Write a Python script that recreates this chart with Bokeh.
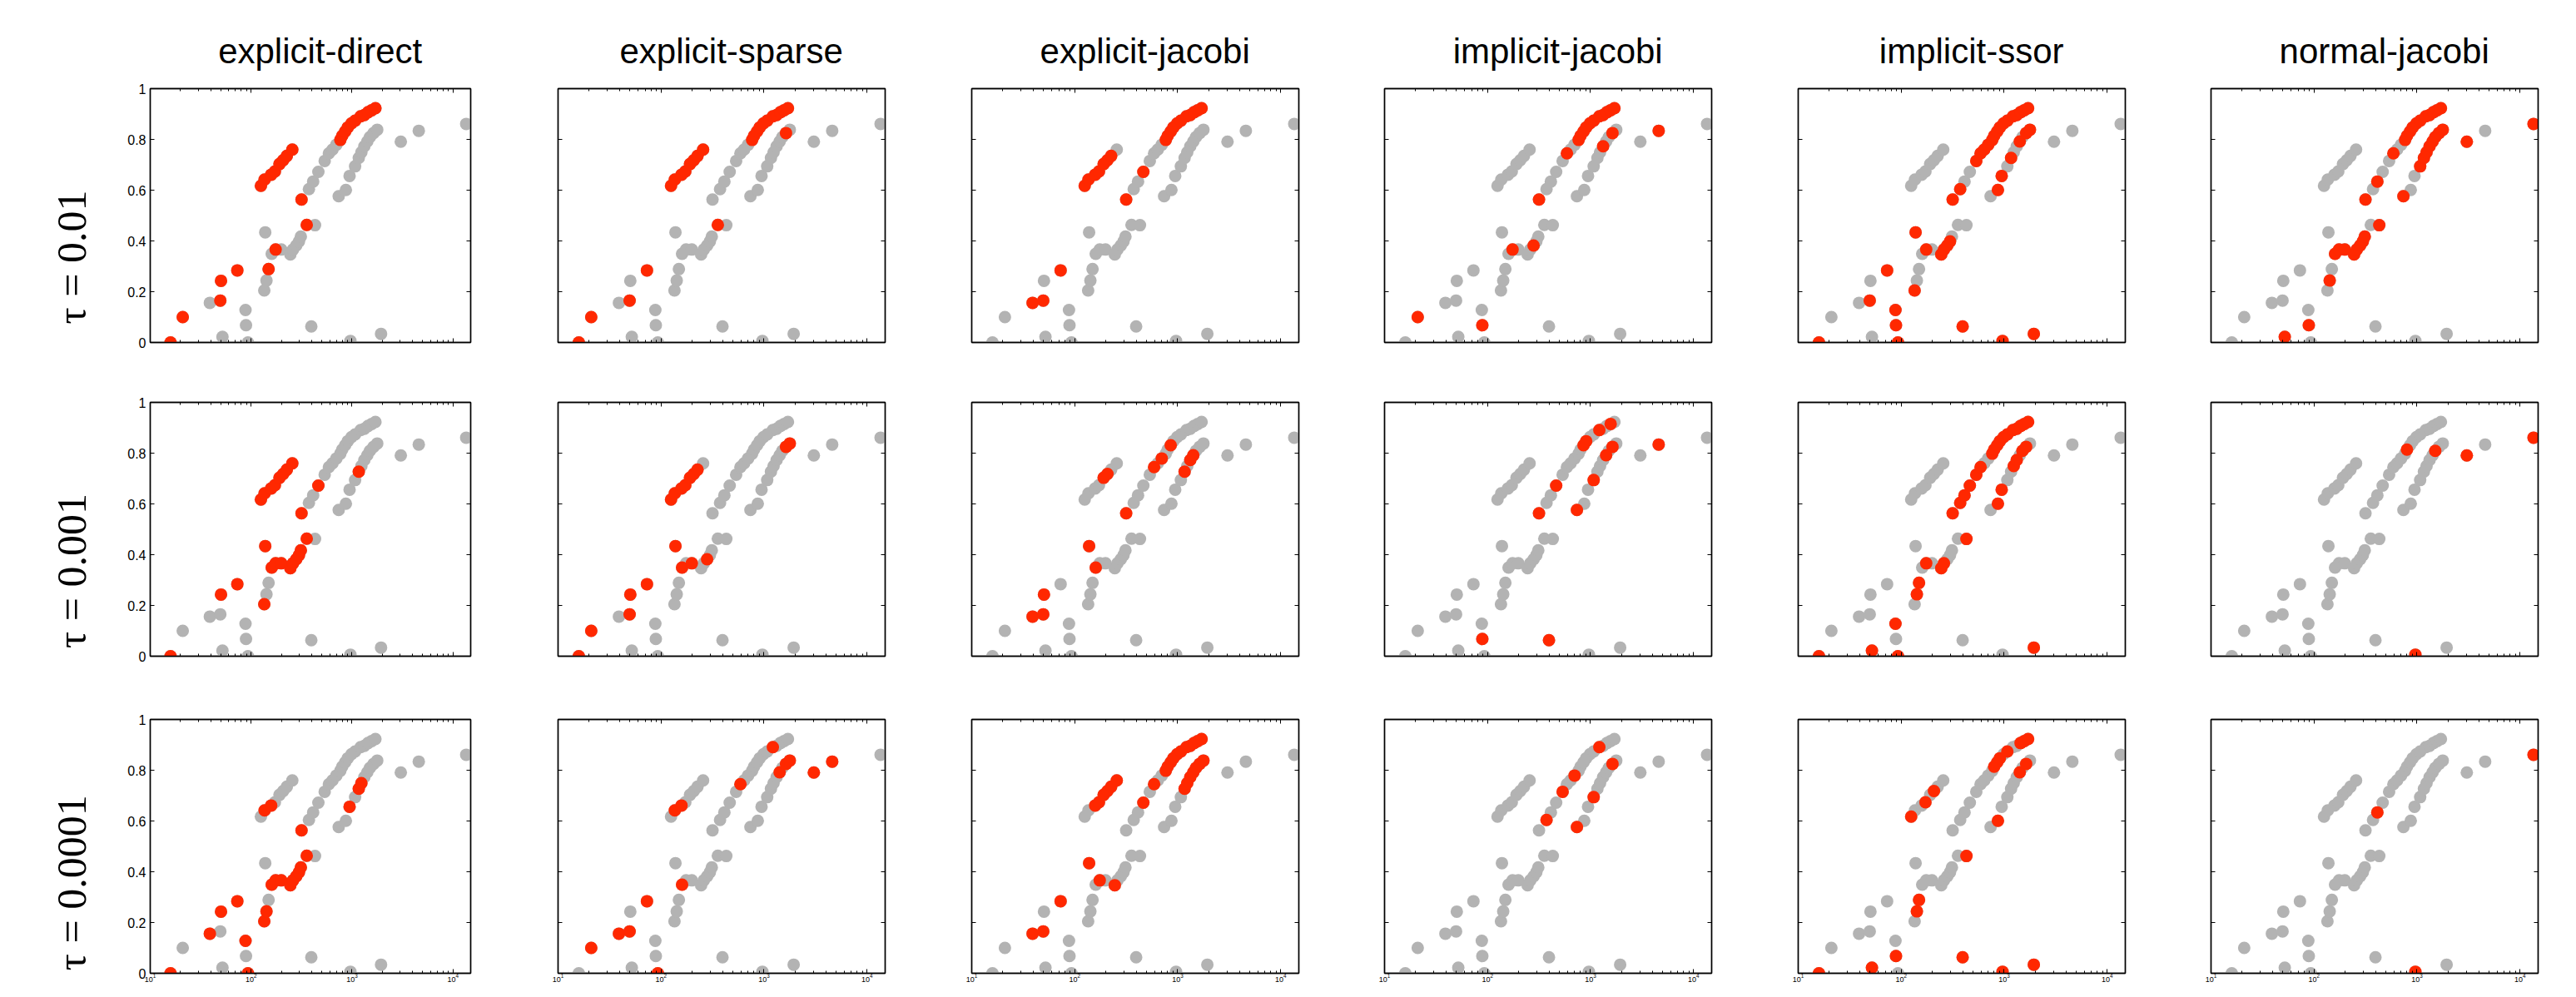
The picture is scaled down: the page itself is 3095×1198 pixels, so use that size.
from bokeh.plotting import figure
from bokeh.layouts import row, column
from bokeh.models import (LogAxis, LinearAxis, FixedTicker, CustomJSTickFormatter,
                          ColumnDataSource, Range1d)
from bokeh.embed import file_html
from bokeh.resources import INLINE

# ---------------- data ----------------
methods = ["explicit-direct", "explicit-sparse", "explicit-jacobi",
           "implicit-jacobi", "implicit-ssor", "normal-jacobi"]
taus = ["0.01", "0.001", "0.0001"]

# isolated points (index i0..i25)
iso_x = [15.9, 21.0, 39.0, 49.5, 50.3, 52.0, 73.0, 88.0, 89.0, 93.0,
         138, 135, 142, 149, 356, 430, 395, 316, 374, 412, 464,
         3045, 4590, 13540, 1940, 964]
iso_y = [0.000, 0.100, 0.156, 0.165, 0.243, 0.022, 0.284, 0.128, 0.068, 0.000,
         0.434, 0.205, 0.244, 0.289, 0.463, 0.462, 0.063, 0.563, 0.604, 0.634, 0.672,
         0.791, 0.834, 0.861, 0.034, 0.006]
# cluster a (upper left band)
a_x = [125, 136, 158, 172, 191, 208, 226, 256]
a_y = [0.617, 0.642, 0.661, 0.674, 0.703, 0.718, 0.735, 0.760]
# cluster b (middle band)
b_x = [160, 175, 199, 245, 260, 280, 298, 311]
b_y = [0.349, 0.366, 0.366, 0.347, 0.366, 0.382, 0.398, 0.417]
# cluster c (upper right band)
c_x = [536, 590, 640, 700, 766, 799, 855, 907, 987, 1073, 1218, 1325, 1442, 1568, 1706]
c_y = [0.715, 0.745, 0.760, 0.779, 0.798, 0.814, 0.831, 0.847, 0.863, 0.874,
       0.891, 0.896, 0.907, 0.915, 0.923]
# cluster d (lower right band)
d_x = [738, 869, 946, 1073, 1167, 1238, 1325, 1417, 1503, 1635, 1778]
d_y = [0.576, 0.601, 0.656, 0.694, 0.727, 0.749, 0.773, 0.792, 0.809, 0.825, 0.838]

ALL_A = list(range(8))
ALL_B = list(range(8))
C4_14 = list(range(4, 15))

# highlighted (red) points per panel: red[row][col] = {cluster: indices}
red = [
    [  # tau = 0.01
        dict(i=[0, 1, 3, 4, 6, 13, 14, 17], a=ALL_A, b=[1], c=C4_14, d=[]),
        dict(i=[0, 1, 3, 6, 14], a=ALL_A, b=[], c=C4_14, d=[9]),
        dict(i=[2, 3, 6, 17, 20], a=list(range(7)), b=[], c=C4_14, d=[]),
        dict(i=[1, 8, 17, 22], a=[], b=[1, 5], c=[1] + C4_14, d=[6, 9]),
        dict(i=[0, 3, 6, 7, 8, 9, 10, 11, 16, 17, 18, 24, 25], a=[], b=[1, 3, 4, 5, 6],
             c=list(range(15)), d=[1, 2, 4, 7, 9, 10]),
        dict(i=[5, 8, 12, 15, 17, 19, 21, 23], a=[], b=ALL_B, c=[1] + C4_14,
             d=[0] + list(range(3, 11))),
    ],
    [  # tau = 0.001
        dict(i=[0, 4, 6, 10, 11, 14, 17, 20], a=ALL_A, b=ALL_B, c=[], d=[4]),
        dict(i=[0, 1, 3, 4, 6, 10], a=list(range(7)), b=[0, 2, 5], c=[], d=[9, 10]),
        dict(i=[2, 3, 4, 10, 17], a=[4, 5], b=[0], c=[1, 3, 6], d=[4, 6, 7]),
        dict(i=[8, 16, 17, 20, 22], a=[], b=[], c=[6, 7, 10, 13], d=[0, 3, 7, 9]),
        dict(i=[0, 5, 7, 9, 12, 13, 15, 17, 18, 19, 20, 24], a=[], b=[1, 3, 4],
             c=[0, 1] + C4_14, d=[1, 2, 5, 6, 8, 9]),
        dict(i=[21, 23, 25], a=[], b=[], c=[5], d=[8]),
    ],
    [  # tau = 0.0001
        dict(i=[0, 2, 4, 6, 7, 9, 11, 12, 14, 17], a=[1, 2], b=ALL_B, c=[], d=[2, 4, 5]),
        dict(i=[1, 2, 3, 6, 9, 21, 22], a=[1, 2], b=[0], c=[1, 10], d=[7, 9, 10]),
        dict(i=[2, 3, 6, 10, 20], a=list(range(2, 8)), b=[1, 3], c=[1] + C4_14,
             d=list(range(4, 11))),
        dict(i=[18], a=[], b=[], c=[0, 3, 10], d=[0, 3, 9]),
        dict(i=[0, 5, 8, 12, 13, 15, 16, 24, 25], a=[0, 3, 5], b=[],
             c=[5, 6, 7, 9, 12, 13, 14], d=[1, 7, 9]),
        dict(i=[19, 23, 25], a=[], b=[], c=[], d=[]),
    ],
]

x_ticks = [10, 100, 1000, 10000]
y_ticks = [0, 0.2, 0.4, 0.6, 0.8, 1]

# ---------------- style / layout ----------------
GRAY = "#b3b3b3"
RED = "#ff2800"
DOT = 15

FW = [385, 393, 393, 393, 393, 393]
LEFT = [180, 52, 52, 52, 52, 52]
RIGHT = [53, 52, 51, 52, 51, 20]
ROW_H = [448, 378, 356]
TOP0 = [106, 35, 38]
TOPN = [104, 33, 33]
FH0 = 305
FHN = 310
LABEL_PAD = [8, 8, 7]

clusters = {"i": (iso_x, iso_y), "a": (a_x, a_y), "b": (b_x, b_y),
            "c": (c_x, c_y), "d": (d_x, d_y)}

all_x = iso_x + a_x + b_x + c_x + d_x
all_y = iso_y + a_y + b_y + c_y + d_y

minor = [m * 10 ** k for k in range(1, 4) for m in range(2, 10)]


def style_x(ax, labels):
    ax.ticker = FixedTicker(ticks=x_ticks, minor_ticks=minor)
    ax.major_tick_in = 5
    ax.major_tick_out = 0
    ax.minor_tick_in = 3
    ax.minor_tick_out = 0
    ax.axis_line_color = "black"
    ax.axis_line_width = 1.4
    ax.major_tick_line_color = "black"
    ax.minor_tick_line_color = "black"
    ax.major_label_text_font = "Liberation Sans"
    ax.major_label_text_font_size = "9px"
    ax.major_label_standoff = 0
    if labels:
        ax.major_label_text_color = "black"
    else:
        ax.major_label_text_color = None


def style_y(ax, labels):
    ax.ticker = FixedTicker(ticks=y_ticks)
    ax.formatter = CustomJSTickFormatter(code="return String(Math.round(tick*10)/10);")
    ax.major_tick_in = 5
    ax.major_tick_out = 0
    ax.minor_tick_line_color = None
    ax.axis_line_color = "black"
    ax.axis_line_width = 1.4
    ax.major_tick_line_color = "black"
    ax.major_label_text_font = "Liberation Sans"
    ax.major_label_text_font_size = "16px"
    ax.major_label_standoff = 5
    if labels:
        ax.major_label_text_color = "black"
    else:
        ax.major_label_text_color = None


rows = []
for r in range(3):
    figs = []
    for c in range(6):
        top = TOP0[r] if c == 0 else TOPN[r]
        fh = FH0 if c == 0 else FHN
        w = LEFT[c] + FW[c] + RIGHT[c]
        h = ROW_H[r]
        bottom = h - top - fh
        p = figure(width=w, height=h, x_axis_type="log",
                   x_range=Range1d(10, 15000), y_range=Range1d(0, 1),
                   output_backend="svg", toolbar_location=None,
                   min_border_left=LEFT[c], min_border_right=RIGHT[c],
                   min_border_top=top, min_border_bottom=bottom)
        p.grid.visible = False
        p.background_fill_color = "white"
        p.border_fill_color = "white"
        p.outline_line_color = "black"
        p.outline_line_width = 1.4

        style_x(p.xaxis[0], r == 2)
        style_y(p.yaxis[0], c == 0)
        top_ax = LogAxis()
        style_x(top_ax, False)
        if r == 0:
            # column heading, nudged right like the original
            top_ax.axis_label = "\u00a0\u00a0" + methods[c]
            top_ax.axis_label_text_font = "Liberation Sans"
            top_ax.axis_label_text_font_size = "42px"
            top_ax.axis_label_text_font_style = "normal"
            top_ax.axis_label_text_color = "black"
            top_ax.axis_label_standoff = 22
        p.add_layout(top_ax, "above")
        right_ax = LinearAxis()
        style_y(right_ax, False)
        p.add_layout(right_ax, "right")

        if c == 0:
            ax = p.yaxis[0]
            ax.axis_label = "\u03c4 = " + taus[r] + "\u00a0" * LABEL_PAD[r]
            ax.axis_label_text_font = "Liberation Serif"
            ax.axis_label_text_font_size = "50px"
            ax.axis_label_text_font_style = "normal"
            ax.axis_label_text_color = "black"
            ax.axis_label_standoff = 36

        gsrc = ColumnDataSource(dict(x=all_x, y=all_y))
        p.scatter("x", "y", source=gsrc, size=DOT, fill_color=GRAY, line_color=None)

        sel = red[r][c]
        rx, ry = [], []
        for key in ["i", "a", "b", "c", "d"]:
            xs, ys = clusters[key]
            for k in sel.get(key, []):
                rx.append(xs[k])
                ry.append(ys[k])
        rsrc = ColumnDataSource(dict(x=rx, y=ry))
        p.scatter("x", "y", source=rsrc, size=DOT, fill_color=RED, line_color=None)
        figs.append(p)
    rows.append(row(*figs))

layout = column(*rows)
open("out.html", "w").write(file_html(layout, INLINE))
